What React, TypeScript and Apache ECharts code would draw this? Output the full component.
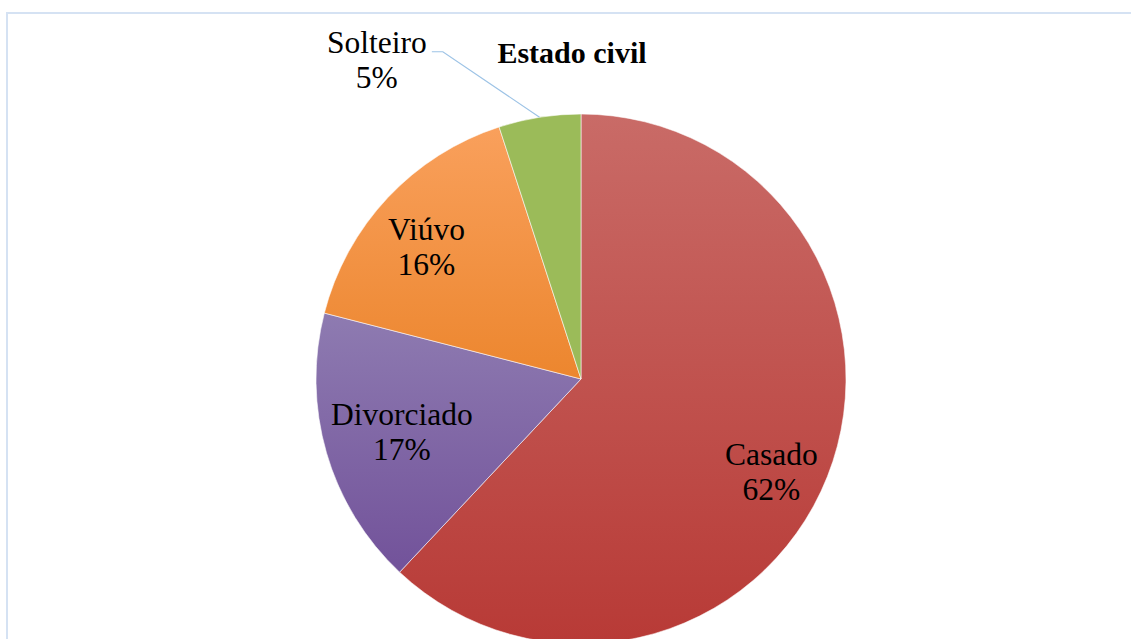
import React, { useEffect, useRef } from "react";
import * as echarts from "echarts";

const TITLE = "Estado civil";
const categories = ["Casado", "Divorciado", "Viúvo", "Solteiro"];
const values = [62, 17, 16, 5];
const topColors = ["#c96b67", "#8e7bb1", "#f9a05c", "#9bbb59"];
const bottomColors = ["#b83a36", "#72529a", "#ec862e", "#9bbb59"];

// label placement (fraction of radius, angle shift in degrees from slice middle)
const labelRadius = [0.8, 0.705, 0.768, 1.43];
const labelShift = [-4.5, 0.3, 2.6, 23.6];

const CX = 581;
const CY = 379;
const R = 265;
const FONT = "Liberation Serif";

export default function App() {
  const ref = useRef<HTMLDivElement>(null);
  useEffect(() => {
    if (!ref.current) return;
    const chart = echarts.init(ref.current, undefined, { renderer: "svg" });
    const total = values.reduce((a, b) => a + b, 0);
    const mids: number[] = [];
    let acc = 0;
    values.forEach((v) => {
      const start = 90 - (acc / total) * 360;
      const end = 90 - ((acc + v) / total) * 360;
      mids.push((start + end) / 2);
      acc += v;
    });
    const labelPos = mids.map((m, i) => {
      const a = ((m + labelShift[i]) * Math.PI) / 180;
      const rr = labelRadius[i] * R;
      return [CX + rr * Math.cos(a), CY - rr * Math.sin(a)];
    });
    // leader line for the outside label (last slice)
    const oi = 3;
    const ma = (mids[oi] * Math.PI) / 180;
    const edge = [CX + R * Math.cos(ma), CY - R * Math.sin(ma)];
    const lp = labelPos[oi];
    const leader = [edge, [lp[0] + 66, lp[1] - 8], [lp[0] + 55, lp[1] - 8]];

    chart.setOption({
      animation: false,
      backgroundColor: "#ffffff",
      textStyle: { fontFamily: FONT },
      title: {
        text: TITLE,
        left: 567,
        textAlign: "center",
        top: 32,
        textStyle: { fontFamily: FONT, fontSize: 30, fontWeight: "bold", color: "#000" },
      },
      graphic: [
        {
          type: "rect",
          shape: { x: 7, y: 13, width: 1300, height: 800 },
          style: { fill: "none", stroke: "#d5e2f3", lineWidth: 2 },
          silent: true,
        },
        {
          type: "polyline",
          shape: { points: leader },
          style: { fill: "none", stroke: "#9dc3e6", lineWidth: 1.2 },
          silent: true,
          z: 10,
        },
      ],
      series: [
        {
          type: "pie",
          center: [CX, CY],
          radius: R,
          startAngle: 90,
          clockwise: true,
          avoidLabelOverlap: false,
          itemStyle: { borderColor: "rgba(255,255,255,0.7)", borderWidth: 0.8 },
          label: {
            show: true,
            position: "inside",
            formatter: "{b}\n{d}%",
            fontFamily: FONT,
            fontSize: 31.5,
            lineHeight: 35,
            color: "#000",
          },
          labelLine: { show: false },
          labelLayout: (params: any) => {
            const p = labelPos[params.dataIndex];
            return { x: p[0], y: p[1], align: "center", verticalAlign: "middle" };
          },
          data: categories.map((c, i) => ({
            name: c,
            value: values[i],
            itemStyle: {
              color: new echarts.graphic.LinearGradient(0, 0, 0, 1, [
                { offset: 0, color: topColors[i] },
                { offset: 1, color: bottomColors[i] },
              ]),
            },
          })),
        },
      ],
    });
    return () => chart.dispose();
  }, []);
  return (
    <div
      ref={ref}
      style={{ position: "fixed", left: 0, top: 0, width: 1131, height: 639 }}
    />
  );
}
